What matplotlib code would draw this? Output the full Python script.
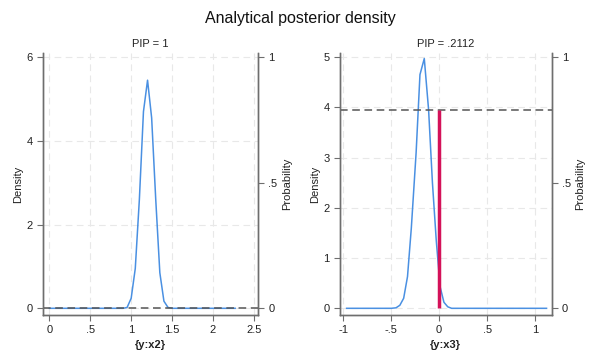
import matplotlib
matplotlib.use("Agg")
import matplotlib.pyplot as plt

plt.rcParams['font.family'] = ['Liberation Sans', 'DejaVu Sans']

# ---- data ----
title = "Analytical posterior density"
panel_titles = ["PIP = 1", "PIP = .2112"]
xlabels = ["{y:x2}", "{y:x3}"]
pips = [1.0, 0.2112]

x2_vals = [0.00, 0.90, 0.95, 1.00, 1.05, 1.10, 1.15, 1.20, 1.25, 1.30, 1.35, 1.40, 1.45, 1.50, 2.27]
x2_dens = [0.0, 0.0, 0.02, 0.24, 0.95, 2.6, 4.7, 5.45, 4.55, 2.6, 0.85, 0.17, 0.02, 0.0, 0.0]

x3_vals = [-0.965, -0.50, -0.45, -0.41, -0.37, -0.33, -0.29, -0.24, -0.20, -0.155,
           -0.11, -0.07, -0.03, 0.01, 0.05, 0.09, 0.13, 1.12]
x3_dens = [0.0, 0.0, 0.01, 0.06, 0.2, 0.63, 1.6, 3.1, 4.65, 4.97,
           3.95, 2.5, 1.35, 0.43, 0.12, 0.03, 0.0, 0.0]

x2_ticks = [0, 0.5, 1, 1.5, 2, 2.5]
x2_ticklabels = ["0", ".5", "1", "1.5", "2", "2.5"]
x3_ticks = [-1, -0.5, 0, 0.5, 1]
x3_ticklabels = ["-1", "-.5", "0", ".5", "1"]
d2_ticks = [0, 2, 4, 6]
d3_ticks = [0, 1, 2, 3, 4, 5]
p_ticks = [0, 0.5, 1]
p_ticklabels = ["0", ".5", "1"]

# ---- style ----
blue = "#4a90e2"
red = "#d41159"
spine_c = "#6e6e6e"
grid_c = "#e8e8e8"
fs = 8

fig = plt.figure(figsize=(6, 3.6), dpi=100)
fig.text(0.5, 0.95, title, ha="center", va="center", fontsize=11.5, color="#111111")

axes_pos = [[43/600, 1-315/360, 215/600, 262/360],
            [340/600, 1-315/360, 211.7/600, 262/360]]
xlims = [(-0.077, 2.549), (-1.034, 1.174)]
ylims = [(-0.16, 6.10), (-0.133, 5.08)]
plim = (-0.0267, 1.0167)

panels = [(x2_vals, x2_dens, x2_ticks, x2_ticklabels, d2_ticks),
          (x3_vals, x3_dens, x3_ticks, x3_ticklabels, d3_ticks)]

for i, (xv, dv, xt, xtl, dt) in enumerate(panels):
    ax = fig.add_axes(axes_pos[i])
    ax.set_xlim(*xlims[i])
    ax.set_ylim(*ylims[i])
    ax.set_xticks(xt)
    ax.set_xticklabels(xtl)
    ax.set_yticks(dt)
    ax.set_yticklabels([str(v) for v in dt])
    ax.grid(True, color=grid_c, linestyle=(0, (6, 4)), linewidth=0.8)
    ax.set_axisbelow(True)
    ax.plot(xv, dv, color=blue, linewidth=1.1, zorder=3)
    ax.set_ylabel("Density", fontsize=fs, color="#222222", labelpad=2)
    ax.set_xlabel(xlabels[i], fontsize=fs, fontweight="bold", color="#222222", labelpad=3)
    ax.set_title(panel_titles[i], fontsize=fs, color="#222222", pad=4)

    ax2 = ax.twinx()
    ax2.set_ylim(*plim)
    ax2.set_yticks(p_ticks)
    ax2.set_yticklabels(p_ticklabels)
    ax2.set_ylabel("Probability", fontsize=fs, color="#222222", labelpad=3)
    p0 = 1 - pips[i]
    ax2.axhline(p0, color="#555555", linestyle=(0, (5, 3)), linewidth=1.1, zorder=2)
    if p0 > 0:
        ax2.vlines(0, 0, p0, color=red, linewidth=2.5, zorder=4)

    for a in (ax, ax2):
        a.spines["top"].set_visible(False)
        for s in ("left", "right", "bottom"):
            a.spines[s].set_color(spine_c)
            a.spines[s].set_linewidth(1.0)
        a.tick_params(labelsize=fs, colors="#222222", length=4, width=0.8)
        a.tick_params(color=spine_c)

fig.savefig("out.png", dpi=100, facecolor="white")
